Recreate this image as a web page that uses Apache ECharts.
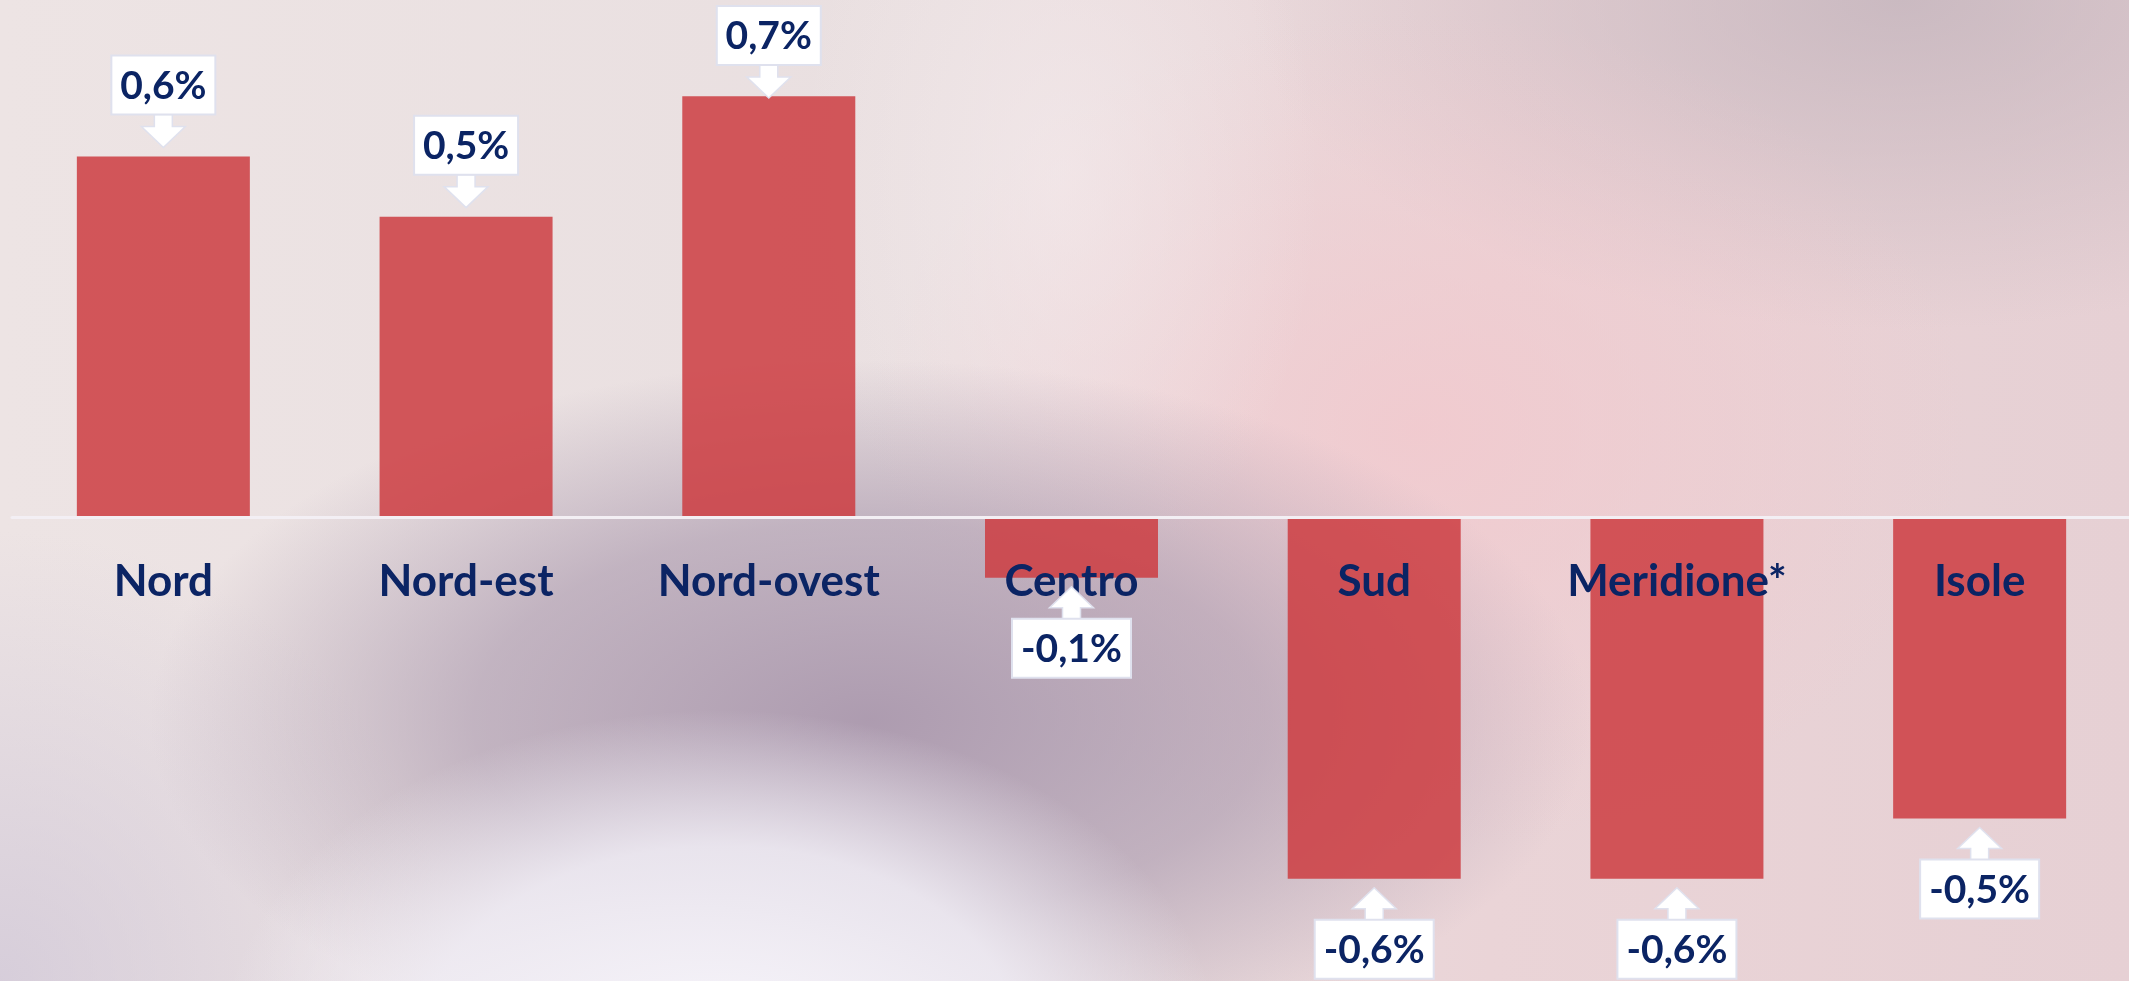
<!DOCTYPE html>
<html>
<head>
<meta charset="utf-8">
<script src="https://cdn.jsdelivr.net/npm/echarts@6/dist/echarts.min.js"></script>
<style>
  html, body {
    margin: 0;
    padding: 0;
    width: 2129px;
    height: 981px;
    overflow: hidden;
  }
  body {
    background:
      radial-gradient(ellipse 500px 340px at 720px 1050px, rgba(247,245,251,0.97) 0%, rgba(240,237,245,0.85) 60%, rgba(240,237,245,0) 100%),
      radial-gradient(ellipse 720px 360px at 870px 720px, rgba(170,152,173,0.95) 0%, rgba(172,155,175,0.65) 55%, rgba(172,155,175,0) 100%),
      radial-gradient(ellipse 260px 420px at 1060px 180px, rgba(246,236,238,0.6) 0%, rgba(246,236,238,0) 100%),
      radial-gradient(ellipse 550px 420px at 1420px 430px, rgba(242,200,205,0.8) 0%, rgba(242,200,205,0) 100%),
      radial-gradient(ellipse 650px 330px at 1900px 0px, rgba(195,180,188,0.8) 0%, rgba(195,180,188,0) 100%),
      radial-gradient(ellipse 450px 450px at 0px 981px, rgba(205,196,214,0.7) 0%, rgba(205,196,214,0) 100%),
      linear-gradient(90deg, #ede4e4 0%, #e9dfe0 45%, #ead4d7 70%, #e6d0d4 100%);
  }
  #chart {
    width: 2129px;
    height: 981px;
  }
</style>
</head>
<body>
<div id="chart"></div>
<script>
  // categorie e valori (variazione %)
  var regioni = ['Nord', 'Nord-est', 'Nord-ovest', 'Centro', 'Sud', 'Meridione*', 'Isole'];
  var variazione = [0.6, 0.5, 0.7, -0.1, -0.6, -0.6, -0.5];

  var navy = '#0b2464';
  var labelFont = 'bold 39px Lato';

  var yMin = -0.77, yMax = 0.86, chartH = 981;
  // distanza dell'asse x dal fondo (linea dello zero)
  var zeroOffset = chartH * (0 - yMin) / (yMax - yMin);

  // misura del testo per le etichette a riquadro
  var measureCtx = document.createElement('canvas').getContext('2d');
  function textWidth(txt) {
    measureCtx.font = labelFont;
    return measureCtx.measureText(txt).width;
  }

  function fmt(v) {
    return v.toFixed(1).replace('.', ',') + '%';
  }

  var calloutData = regioni.map(function (r, i) {
    return [i, variazione[i]];
  });

  function renderCallout(params, api) {
    var idx = api.value(0);
    var v = api.value(1);
    var pt = api.coord([idx, v]);
    var cx = pt[0];
    var txt = fmt(v);
    var w = Math.round(textWidth(txt) + 18);
    var boxH = 59;
    var gap = 9, headH = 21, shaftH = 12, headW = 22, shaftW = 9;
    var tip, dir, boxTop;

    if (v >= 0) {
      dir = -1;
      tip = pt[1] - gap;
      boxTop = tip - headH - shaftH - boxH;
      if (boxTop < 6) {
        // spinto giù se esce dal bordo
        tip += 6 - boxTop;
        boxTop = 6;
      }
    } else {
      dir = 1;
      tip = pt[1] + gap;
      boxTop = tip + headH + shaftH - 1;
    }

    var hb = tip + dir * headH;
    var sb = tip + dir * (headH + shaftH);
    var arrow = [
      [cx, tip],
      [cx - headW, hb],
      [cx - shaftW, hb],
      [cx - shaftW, sb],
      [cx + shaftW, sb],
      [cx + shaftW, hb],
      [cx + headW, hb]
    ];

    return {
      type: 'group',
      children: [
        {
          type: 'polygon',
          shape: {points: arrow},
          style: {fill: '#ffffff', stroke: '#dfe1ee', lineWidth: 1.5}
        },
        {
          type: 'rect',
          shape: {x: cx - w / 2, y: boxTop, width: w, height: boxH},
          style: {fill: '#ffffff', stroke: '#dfe1ee', lineWidth: 2}
        },
        {
          type: 'text',
          style: {
            text: txt,
            x: cx,
            y: boxTop + boxH / 2 + 1,
            align: 'center',
            verticalAlign: 'middle',
            font: labelFont,
            fill: navy
          }
        }
      ]
    };
  }

  var chart = echarts.init(document.getElementById('chart'));
  chart.setOption({
    backgroundColor: 'transparent',
    animation: false,
    grid: {
      left: 12,
      right: -2,
      top: 0,
      bottom: 0,
      outerBoundsMode: 'none'
    },
    xAxis: {
      type: 'category',
      data: regioni,
      position: 'bottom',
      offset: -zeroOffset,
      z: 10,
      axisTick: {show: false},
      axisLine: {
        show: true,
        onZero: false,
        lineStyle: {color: '#f3eff4', width: 3}
      },
      axisLabel: {
        interval: 0,
        margin: 42,
        fontFamily: 'Lato',
        fontWeight: 'bold',
        fontSize: 44,
        color: navy
      }
    },
    yAxis: {
      type: 'value',
      min: yMin,
      max: yMax,
      show: false,
      splitLine: {show: false}
    },
    series: [
      {
        type: 'bar',
        data: variazione,
        barWidth: 173,
        itemStyle: {color: 'rgba(205, 60, 65, 0.85)'}
      },
      {
        type: 'custom',
        z: 20,
        data: calloutData,
        encode: {x: 0, y: 1},
        renderItem: renderCallout
      }
    ]
  });
</script>
</body>
</html>
